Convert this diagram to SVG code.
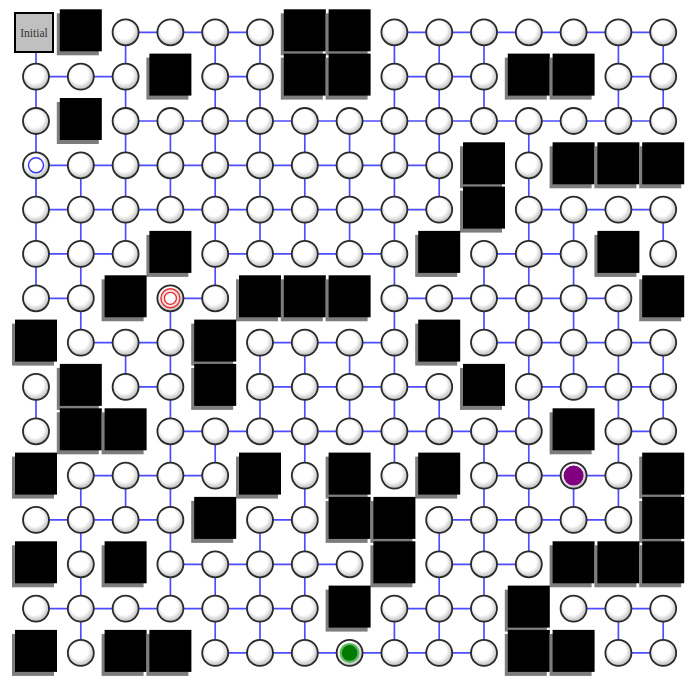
<svg xmlns="http://www.w3.org/2000/svg" xmlns:xlink="http://www.w3.org/1999/xlink" width="694" height="677" viewBox="0 0 694 677">
<style>
.e{stroke:#4d4dff;stroke-width:1.7;fill:none}
.lbl{font-family:"Liberation Serif","Times New Roman",serif;font-size:11.5px;fill:#333}
</style>
<defs>
<radialGradient id="gf" cx="0.45" cy="0.42" r="0.6">
<stop offset="0.55" stop-color="#ffffff"/>
<stop offset="1" stop-color="#b5b5b5"/>
</radialGradient>
<g id="nd"><circle r="13" fill="url(#gf)" stroke="#2a2a2a" stroke-width="1.8"/></g>
<g id="wl"><rect x="-24" y="-19" width="42" height="42" fill="#7d7d7d"/><rect x="-21" y="-23" width="42" height="42" fill="#000"/></g>
</defs>
<rect width="694" height="677" fill="#fff"/>
<g id="connectors">
<line class="e" x1="125.6" y1="32.3" x2="260" y2="32.3"/>
<line class="e" x1="394.4" y1="32.3" x2="663.2" y2="32.3"/>
<line class="e" x1="36" y1="76.6" x2="125.6" y2="76.6"/>
<line class="e" x1="215.2" y1="76.6" x2="260" y2="76.6"/>
<line class="e" x1="394.4" y1="76.6" x2="484" y2="76.6"/>
<line class="e" x1="618.4" y1="76.6" x2="663.2" y2="76.6"/>
<line class="e" x1="125.6" y1="121" x2="663.2" y2="121"/>
<line class="e" x1="36" y1="165.3" x2="439.2" y2="165.3"/>
<line class="e" x1="36" y1="209.6" x2="439.2" y2="209.6"/>
<line class="e" x1="528.8" y1="209.6" x2="663.2" y2="209.6"/>
<line class="e" x1="36" y1="253.9" x2="125.6" y2="253.9"/>
<line class="e" x1="215.2" y1="253.9" x2="394.4" y2="253.9"/>
<line class="e" x1="484" y1="253.9" x2="573.6" y2="253.9"/>
<line class="e" x1="36" y1="298.3" x2="80.8" y2="298.3"/>
<line class="e" x1="170.4" y1="298.3" x2="215.2" y2="298.3"/>
<line class="e" x1="394.4" y1="298.3" x2="618.4" y2="298.3"/>
<line class="e" x1="80.8" y1="342.6" x2="170.4" y2="342.6"/>
<line class="e" x1="260" y1="342.6" x2="394.4" y2="342.6"/>
<line class="e" x1="484" y1="342.6" x2="663.2" y2="342.6"/>
<line class="e" x1="125.6" y1="386.9" x2="170.4" y2="386.9"/>
<line class="e" x1="260" y1="386.9" x2="439.2" y2="386.9"/>
<line class="e" x1="528.8" y1="386.9" x2="663.2" y2="386.9"/>
<line class="e" x1="170.4" y1="431.3" x2="528.8" y2="431.3"/>
<line class="e" x1="618.4" y1="431.3" x2="663.2" y2="431.3"/>
<line class="e" x1="80.8" y1="475.6" x2="215.2" y2="475.6"/>
<line class="e" x1="484" y1="475.6" x2="618.4" y2="475.6"/>
<line class="e" x1="36" y1="519.9" x2="170.4" y2="519.9"/>
<line class="e" x1="260" y1="519.9" x2="304.8" y2="519.9"/>
<line class="e" x1="439.2" y1="519.9" x2="618.4" y2="519.9"/>
<line class="e" x1="170.4" y1="564.3" x2="349.6" y2="564.3"/>
<line class="e" x1="439.2" y1="564.3" x2="528.8" y2="564.3"/>
<line class="e" x1="36" y1="608.6" x2="304.8" y2="608.6"/>
<line class="e" x1="394.4" y1="608.6" x2="484" y2="608.6"/>
<line class="e" x1="573.6" y1="608.6" x2="663.2" y2="608.6"/>
<line class="e" x1="215.2" y1="652.9" x2="484" y2="652.9"/>
<line class="e" x1="618.4" y1="652.9" x2="663.2" y2="652.9"/>
<line class="e" x1="36" y1="32.3" x2="36" y2="298.3"/>
<line class="e" x1="36" y1="386.9" x2="36" y2="431.3"/>
<line class="e" x1="80.8" y1="165.3" x2="80.8" y2="342.6"/>
<line class="e" x1="80.8" y1="475.6" x2="80.8" y2="652.9"/>
<line class="e" x1="125.6" y1="32.3" x2="125.6" y2="253.9"/>
<line class="e" x1="125.6" y1="342.6" x2="125.6" y2="386.9"/>
<line class="e" x1="125.6" y1="475.6" x2="125.6" y2="519.9"/>
<line class="e" x1="170.4" y1="121" x2="170.4" y2="209.6"/>
<line class="e" x1="170.4" y1="298.3" x2="170.4" y2="608.6"/>
<line class="e" x1="215.2" y1="32.3" x2="215.2" y2="298.3"/>
<line class="e" x1="215.2" y1="431.3" x2="215.2" y2="475.6"/>
<line class="e" x1="215.2" y1="564.3" x2="215.2" y2="652.9"/>
<line class="e" x1="260" y1="32.3" x2="260" y2="253.9"/>
<line class="e" x1="260" y1="342.6" x2="260" y2="431.3"/>
<line class="e" x1="260" y1="519.9" x2="260" y2="652.9"/>
<line class="e" x1="304.8" y1="121" x2="304.8" y2="253.9"/>
<line class="e" x1="304.8" y1="342.6" x2="304.8" y2="652.9"/>
<line class="e" x1="349.6" y1="121" x2="349.6" y2="253.9"/>
<line class="e" x1="349.6" y1="342.6" x2="349.6" y2="431.3"/>
<line class="e" x1="394.4" y1="32.3" x2="394.4" y2="475.6"/>
<line class="e" x1="394.4" y1="608.6" x2="394.4" y2="652.9"/>
<line class="e" x1="439.2" y1="32.3" x2="439.2" y2="209.6"/>
<line class="e" x1="439.2" y1="386.9" x2="439.2" y2="431.3"/>
<line class="e" x1="439.2" y1="519.9" x2="439.2" y2="652.9"/>
<line class="e" x1="484" y1="32.3" x2="484" y2="121"/>
<line class="e" x1="484" y1="253.9" x2="484" y2="342.6"/>
<line class="e" x1="484" y1="431.3" x2="484" y2="652.9"/>
<line class="e" x1="528.8" y1="121" x2="528.8" y2="564.3"/>
<line class="e" x1="573.6" y1="209.6" x2="573.6" y2="386.9"/>
<line class="e" x1="573.6" y1="475.6" x2="573.6" y2="519.9"/>
<line class="e" x1="618.4" y1="32.3" x2="618.4" y2="121"/>
<line class="e" x1="618.4" y1="298.3" x2="618.4" y2="519.9"/>
<line class="e" x1="618.4" y1="608.6" x2="618.4" y2="652.9"/>
<line class="e" x1="663.2" y1="32.3" x2="663.2" y2="121"/>
<line class="e" x1="663.2" y1="209.6" x2="663.2" y2="253.9"/>
<line class="e" x1="663.2" y1="342.6" x2="663.2" y2="431.3"/>
<line class="e" x1="663.2" y1="608.6" x2="663.2" y2="652.9"/>
</g>
<g id="walls">
<g id="w-0-1"><use href="#wl" x="80.8" y="32.3"/></g>
<g id="w-0-6"><use href="#wl" x="304.8" y="32.3"/></g>
<g id="w-0-7"><use href="#wl" x="349.6" y="32.3"/></g>
<g id="w-1-3"><use href="#wl" x="170.4" y="76.6"/></g>
<g id="w-1-6"><use href="#wl" x="304.8" y="76.6"/></g>
<g id="w-1-7"><use href="#wl" x="349.6" y="76.6"/></g>
<g id="w-1-11"><use href="#wl" x="528.8" y="76.6"/></g>
<g id="w-1-12"><use href="#wl" x="573.6" y="76.6"/></g>
<g id="w-2-1"><use href="#wl" x="80.8" y="121"/></g>
<g id="w-3-10"><use href="#wl" x="484" y="165.3"/></g>
<g id="w-3-12"><use href="#wl" x="573.6" y="165.3"/></g>
<g id="w-3-13"><use href="#wl" x="618.4" y="165.3"/></g>
<g id="w-3-14"><use href="#wl" x="663.2" y="165.3"/></g>
<g id="w-4-10"><use href="#wl" x="484" y="209.6"/></g>
<g id="w-5-3"><use href="#wl" x="170.4" y="253.9"/></g>
<g id="w-5-9"><use href="#wl" x="439.2" y="253.9"/></g>
<g id="w-5-13"><use href="#wl" x="618.4" y="253.9"/></g>
<g id="w-6-2"><use href="#wl" x="125.6" y="298.3"/></g>
<g id="w-6-5"><use href="#wl" x="260" y="298.3"/></g>
<g id="w-6-6"><use href="#wl" x="304.8" y="298.3"/></g>
<g id="w-6-7"><use href="#wl" x="349.6" y="298.3"/></g>
<g id="w-6-14"><use href="#wl" x="663.2" y="298.3"/></g>
<g id="w-7-0"><use href="#wl" x="36" y="342.6"/></g>
<g id="w-7-4"><use href="#wl" x="215.2" y="342.6"/></g>
<g id="w-7-9"><use href="#wl" x="439.2" y="342.6"/></g>
<g id="w-8-1"><use href="#wl" x="80.8" y="386.9"/></g>
<g id="w-8-4"><use href="#wl" x="215.2" y="386.9"/></g>
<g id="w-8-10"><use href="#wl" x="484" y="386.9"/></g>
<g id="w-9-1"><use href="#wl" x="80.8" y="431.3"/></g>
<g id="w-9-2"><use href="#wl" x="125.6" y="431.3"/></g>
<g id="w-9-12"><use href="#wl" x="573.6" y="431.3"/></g>
<g id="w-10-0"><use href="#wl" x="36" y="475.6"/></g>
<g id="w-10-5"><use href="#wl" x="260" y="475.6"/></g>
<g id="w-10-7"><use href="#wl" x="349.6" y="475.6"/></g>
<g id="w-10-9"><use href="#wl" x="439.2" y="475.6"/></g>
<g id="w-10-14"><use href="#wl" x="663.2" y="475.6"/></g>
<g id="w-11-4"><use href="#wl" x="215.2" y="519.9"/></g>
<g id="w-11-7"><use href="#wl" x="349.6" y="519.9"/></g>
<g id="w-11-8"><use href="#wl" x="394.4" y="519.9"/></g>
<g id="w-11-14"><use href="#wl" x="663.2" y="519.9"/></g>
<g id="w-12-0"><use href="#wl" x="36" y="564.3"/></g>
<g id="w-12-2"><use href="#wl" x="125.6" y="564.3"/></g>
<g id="w-12-8"><use href="#wl" x="394.4" y="564.3"/></g>
<g id="w-12-12"><use href="#wl" x="573.6" y="564.3"/></g>
<g id="w-12-13"><use href="#wl" x="618.4" y="564.3"/></g>
<g id="w-12-14"><use href="#wl" x="663.2" y="564.3"/></g>
<g id="w-13-7"><use href="#wl" x="349.6" y="608.6"/></g>
<g id="w-13-11"><use href="#wl" x="528.8" y="608.6"/></g>
<g id="w-14-0"><use href="#wl" x="36" y="652.9"/></g>
<g id="w-14-2"><use href="#wl" x="125.6" y="652.9"/></g>
<g id="w-14-3"><use href="#wl" x="170.4" y="652.9"/></g>
<g id="w-14-11"><use href="#wl" x="528.8" y="652.9"/></g>
<g id="w-14-12"><use href="#wl" x="573.6" y="652.9"/></g>
</g>
<g id="nodes">
<g id="initial"><rect x="15" y="13" width="38" height="39" fill="#c0c0c0" stroke="#000" stroke-width="2"/><text class="lbl" x="34" y="36.5" text-anchor="middle">Initial</text></g>
<g id="n-0-2"><use href="#nd" x="125.6" y="32.3"/></g>
<g id="n-0-3"><use href="#nd" x="170.4" y="32.3"/></g>
<g id="n-0-4"><use href="#nd" x="215.2" y="32.3"/></g>
<g id="n-0-5"><use href="#nd" x="260" y="32.3"/></g>
<g id="n-0-8"><use href="#nd" x="394.4" y="32.3"/></g>
<g id="n-0-9"><use href="#nd" x="439.2" y="32.3"/></g>
<g id="n-0-10"><use href="#nd" x="484" y="32.3"/></g>
<g id="n-0-11"><use href="#nd" x="528.8" y="32.3"/></g>
<g id="n-0-12"><use href="#nd" x="573.6" y="32.3"/></g>
<g id="n-0-13"><use href="#nd" x="618.4" y="32.3"/></g>
<g id="n-0-14"><use href="#nd" x="663.2" y="32.3"/></g>
<g id="n-1-0"><use href="#nd" x="36" y="76.6"/></g>
<g id="n-1-1"><use href="#nd" x="80.8" y="76.6"/></g>
<g id="n-1-2"><use href="#nd" x="125.6" y="76.6"/></g>
<g id="n-1-4"><use href="#nd" x="215.2" y="76.6"/></g>
<g id="n-1-5"><use href="#nd" x="260" y="76.6"/></g>
<g id="n-1-8"><use href="#nd" x="394.4" y="76.6"/></g>
<g id="n-1-9"><use href="#nd" x="439.2" y="76.6"/></g>
<g id="n-1-10"><use href="#nd" x="484" y="76.6"/></g>
<g id="n-1-13"><use href="#nd" x="618.4" y="76.6"/></g>
<g id="n-1-14"><use href="#nd" x="663.2" y="76.6"/></g>
<g id="n-2-0"><use href="#nd" x="36" y="121"/></g>
<g id="n-2-2"><use href="#nd" x="125.6" y="121"/></g>
<g id="n-2-3"><use href="#nd" x="170.4" y="121"/></g>
<g id="n-2-4"><use href="#nd" x="215.2" y="121"/></g>
<g id="n-2-5"><use href="#nd" x="260" y="121"/></g>
<g id="n-2-6"><use href="#nd" x="304.8" y="121"/></g>
<g id="n-2-7"><use href="#nd" x="349.6" y="121"/></g>
<g id="n-2-8"><use href="#nd" x="394.4" y="121"/></g>
<g id="n-2-9"><use href="#nd" x="439.2" y="121"/></g>
<g id="n-2-10"><use href="#nd" x="484" y="121"/></g>
<g id="n-2-11"><use href="#nd" x="528.8" y="121"/></g>
<g id="n-2-12"><use href="#nd" x="573.6" y="121"/></g>
<g id="n-2-13"><use href="#nd" x="618.4" y="121"/></g>
<g id="n-2-14"><use href="#nd" x="663.2" y="121"/></g>
<g id="n-3-0"><use href="#nd" x="36" y="165.3"/><circle cx="36" cy="165.3" r="7.5" fill="#fff" stroke="#3a3aff" stroke-width="1.5"/></g>
<g id="n-3-1"><use href="#nd" x="80.8" y="165.3"/></g>
<g id="n-3-2"><use href="#nd" x="125.6" y="165.3"/></g>
<g id="n-3-3"><use href="#nd" x="170.4" y="165.3"/></g>
<g id="n-3-4"><use href="#nd" x="215.2" y="165.3"/></g>
<g id="n-3-5"><use href="#nd" x="260" y="165.3"/></g>
<g id="n-3-6"><use href="#nd" x="304.8" y="165.3"/></g>
<g id="n-3-7"><use href="#nd" x="349.6" y="165.3"/></g>
<g id="n-3-8"><use href="#nd" x="394.4" y="165.3"/></g>
<g id="n-3-9"><use href="#nd" x="439.2" y="165.3"/></g>
<g id="n-3-11"><use href="#nd" x="528.8" y="165.3"/></g>
<g id="n-4-0"><use href="#nd" x="36" y="209.6"/></g>
<g id="n-4-1"><use href="#nd" x="80.8" y="209.6"/></g>
<g id="n-4-2"><use href="#nd" x="125.6" y="209.6"/></g>
<g id="n-4-3"><use href="#nd" x="170.4" y="209.6"/></g>
<g id="n-4-4"><use href="#nd" x="215.2" y="209.6"/></g>
<g id="n-4-5"><use href="#nd" x="260" y="209.6"/></g>
<g id="n-4-6"><use href="#nd" x="304.8" y="209.6"/></g>
<g id="n-4-7"><use href="#nd" x="349.6" y="209.6"/></g>
<g id="n-4-8"><use href="#nd" x="394.4" y="209.6"/></g>
<g id="n-4-9"><use href="#nd" x="439.2" y="209.6"/></g>
<g id="n-4-11"><use href="#nd" x="528.8" y="209.6"/></g>
<g id="n-4-12"><use href="#nd" x="573.6" y="209.6"/></g>
<g id="n-4-13"><use href="#nd" x="618.4" y="209.6"/></g>
<g id="n-4-14"><use href="#nd" x="663.2" y="209.6"/></g>
<g id="n-5-0"><use href="#nd" x="36" y="253.9"/></g>
<g id="n-5-1"><use href="#nd" x="80.8" y="253.9"/></g>
<g id="n-5-2"><use href="#nd" x="125.6" y="253.9"/></g>
<g id="n-5-4"><use href="#nd" x="215.2" y="253.9"/></g>
<g id="n-5-5"><use href="#nd" x="260" y="253.9"/></g>
<g id="n-5-6"><use href="#nd" x="304.8" y="253.9"/></g>
<g id="n-5-7"><use href="#nd" x="349.6" y="253.9"/></g>
<g id="n-5-8"><use href="#nd" x="394.4" y="253.9"/></g>
<g id="n-5-10"><use href="#nd" x="484" y="253.9"/></g>
<g id="n-5-11"><use href="#nd" x="528.8" y="253.9"/></g>
<g id="n-5-12"><use href="#nd" x="573.6" y="253.9"/></g>
<g id="n-5-14"><use href="#nd" x="663.2" y="253.9"/></g>
<g id="n-6-0"><use href="#nd" x="36" y="298.3"/></g>
<g id="n-6-1"><use href="#nd" x="80.8" y="298.3"/></g>
<g id="n-6-3"><use href="#nd" x="170.4" y="298.3"/><circle cx="170.4" cy="298.3" r="9.5" fill="#f6dede" stroke="#e53030" stroke-width="1.4"/><circle cx="170.4" cy="298.3" r="6" fill="#fff" stroke="#e53030" stroke-width="1.3"/></g>
<g id="n-6-4"><use href="#nd" x="215.2" y="298.3"/></g>
<g id="n-6-8"><use href="#nd" x="394.4" y="298.3"/></g>
<g id="n-6-9"><use href="#nd" x="439.2" y="298.3"/></g>
<g id="n-6-10"><use href="#nd" x="484" y="298.3"/></g>
<g id="n-6-11"><use href="#nd" x="528.8" y="298.3"/></g>
<g id="n-6-12"><use href="#nd" x="573.6" y="298.3"/></g>
<g id="n-6-13"><use href="#nd" x="618.4" y="298.3"/></g>
<g id="n-7-1"><use href="#nd" x="80.8" y="342.6"/></g>
<g id="n-7-2"><use href="#nd" x="125.6" y="342.6"/></g>
<g id="n-7-3"><use href="#nd" x="170.4" y="342.6"/></g>
<g id="n-7-5"><use href="#nd" x="260" y="342.6"/></g>
<g id="n-7-6"><use href="#nd" x="304.8" y="342.6"/></g>
<g id="n-7-7"><use href="#nd" x="349.6" y="342.6"/></g>
<g id="n-7-8"><use href="#nd" x="394.4" y="342.6"/></g>
<g id="n-7-10"><use href="#nd" x="484" y="342.6"/></g>
<g id="n-7-11"><use href="#nd" x="528.8" y="342.6"/></g>
<g id="n-7-12"><use href="#nd" x="573.6" y="342.6"/></g>
<g id="n-7-13"><use href="#nd" x="618.4" y="342.6"/></g>
<g id="n-7-14"><use href="#nd" x="663.2" y="342.6"/></g>
<g id="n-8-0"><use href="#nd" x="36" y="386.9"/></g>
<g id="n-8-2"><use href="#nd" x="125.6" y="386.9"/></g>
<g id="n-8-3"><use href="#nd" x="170.4" y="386.9"/></g>
<g id="n-8-5"><use href="#nd" x="260" y="386.9"/></g>
<g id="n-8-6"><use href="#nd" x="304.8" y="386.9"/></g>
<g id="n-8-7"><use href="#nd" x="349.6" y="386.9"/></g>
<g id="n-8-8"><use href="#nd" x="394.4" y="386.9"/></g>
<g id="n-8-9"><use href="#nd" x="439.2" y="386.9"/></g>
<g id="n-8-11"><use href="#nd" x="528.8" y="386.9"/></g>
<g id="n-8-12"><use href="#nd" x="573.6" y="386.9"/></g>
<g id="n-8-13"><use href="#nd" x="618.4" y="386.9"/></g>
<g id="n-8-14"><use href="#nd" x="663.2" y="386.9"/></g>
<g id="n-9-0"><use href="#nd" x="36" y="431.3"/></g>
<g id="n-9-3"><use href="#nd" x="170.4" y="431.3"/></g>
<g id="n-9-4"><use href="#nd" x="215.2" y="431.3"/></g>
<g id="n-9-5"><use href="#nd" x="260" y="431.3"/></g>
<g id="n-9-6"><use href="#nd" x="304.8" y="431.3"/></g>
<g id="n-9-7"><use href="#nd" x="349.6" y="431.3"/></g>
<g id="n-9-8"><use href="#nd" x="394.4" y="431.3"/></g>
<g id="n-9-9"><use href="#nd" x="439.2" y="431.3"/></g>
<g id="n-9-10"><use href="#nd" x="484" y="431.3"/></g>
<g id="n-9-11"><use href="#nd" x="528.8" y="431.3"/></g>
<g id="n-9-13"><use href="#nd" x="618.4" y="431.3"/></g>
<g id="n-9-14"><use href="#nd" x="663.2" y="431.3"/></g>
<g id="n-10-1"><use href="#nd" x="80.8" y="475.6"/></g>
<g id="n-10-2"><use href="#nd" x="125.6" y="475.6"/></g>
<g id="n-10-3"><use href="#nd" x="170.4" y="475.6"/></g>
<g id="n-10-4"><use href="#nd" x="215.2" y="475.6"/></g>
<g id="n-10-6"><use href="#nd" x="304.8" y="475.6"/></g>
<g id="n-10-8"><use href="#nd" x="394.4" y="475.6"/></g>
<g id="n-10-10"><use href="#nd" x="484" y="475.6"/></g>
<g id="n-10-11"><use href="#nd" x="528.8" y="475.6"/></g>
<g id="n-10-12"><use href="#nd" x="573.6" y="475.6"/><circle cx="573.6" cy="475.6" r="10" fill="#800080"/></g>
<g id="n-10-13"><use href="#nd" x="618.4" y="475.6"/></g>
<g id="n-11-0"><use href="#nd" x="36" y="519.9"/></g>
<g id="n-11-1"><use href="#nd" x="80.8" y="519.9"/></g>
<g id="n-11-2"><use href="#nd" x="125.6" y="519.9"/></g>
<g id="n-11-3"><use href="#nd" x="170.4" y="519.9"/></g>
<g id="n-11-5"><use href="#nd" x="260" y="519.9"/></g>
<g id="n-11-6"><use href="#nd" x="304.8" y="519.9"/></g>
<g id="n-11-9"><use href="#nd" x="439.2" y="519.9"/></g>
<g id="n-11-10"><use href="#nd" x="484" y="519.9"/></g>
<g id="n-11-11"><use href="#nd" x="528.8" y="519.9"/></g>
<g id="n-11-12"><use href="#nd" x="573.6" y="519.9"/></g>
<g id="n-11-13"><use href="#nd" x="618.4" y="519.9"/></g>
<g id="n-12-1"><use href="#nd" x="80.8" y="564.3"/></g>
<g id="n-12-3"><use href="#nd" x="170.4" y="564.3"/></g>
<g id="n-12-4"><use href="#nd" x="215.2" y="564.3"/></g>
<g id="n-12-5"><use href="#nd" x="260" y="564.3"/></g>
<g id="n-12-6"><use href="#nd" x="304.8" y="564.3"/></g>
<g id="n-12-7"><use href="#nd" x="349.6" y="564.3"/></g>
<g id="n-12-9"><use href="#nd" x="439.2" y="564.3"/></g>
<g id="n-12-10"><use href="#nd" x="484" y="564.3"/></g>
<g id="n-12-11"><use href="#nd" x="528.8" y="564.3"/></g>
<g id="n-13-0"><use href="#nd" x="36" y="608.6"/></g>
<g id="n-13-1"><use href="#nd" x="80.8" y="608.6"/></g>
<g id="n-13-2"><use href="#nd" x="125.6" y="608.6"/></g>
<g id="n-13-3"><use href="#nd" x="170.4" y="608.6"/></g>
<g id="n-13-4"><use href="#nd" x="215.2" y="608.6"/></g>
<g id="n-13-5"><use href="#nd" x="260" y="608.6"/></g>
<g id="n-13-6"><use href="#nd" x="304.8" y="608.6"/></g>
<g id="n-13-8"><use href="#nd" x="394.4" y="608.6"/></g>
<g id="n-13-9"><use href="#nd" x="439.2" y="608.6"/></g>
<g id="n-13-10"><use href="#nd" x="484" y="608.6"/></g>
<g id="n-13-12"><use href="#nd" x="573.6" y="608.6"/></g>
<g id="n-13-13"><use href="#nd" x="618.4" y="608.6"/></g>
<g id="n-13-14"><use href="#nd" x="663.2" y="608.6"/></g>
<g id="n-14-1"><use href="#nd" x="80.8" y="652.9"/></g>
<g id="n-14-4"><use href="#nd" x="215.2" y="652.9"/></g>
<g id="n-14-5"><use href="#nd" x="260" y="652.9"/></g>
<g id="n-14-6"><use href="#nd" x="304.8" y="652.9"/></g>
<g id="n-14-7"><use href="#nd" x="349.6" y="652.9"/><circle cx="349.6" cy="652.9" r="10" fill="#5cb85c"/><circle cx="349.6" cy="652.9" r="7.8" fill="#007a00"/></g>
<g id="n-14-8"><use href="#nd" x="394.4" y="652.9"/></g>
<g id="n-14-9"><use href="#nd" x="439.2" y="652.9"/></g>
<g id="n-14-10"><use href="#nd" x="484" y="652.9"/></g>
<g id="n-14-13"><use href="#nd" x="618.4" y="652.9"/></g>
<g id="n-14-14"><use href="#nd" x="663.2" y="652.9"/></g>
</g>
</svg>
